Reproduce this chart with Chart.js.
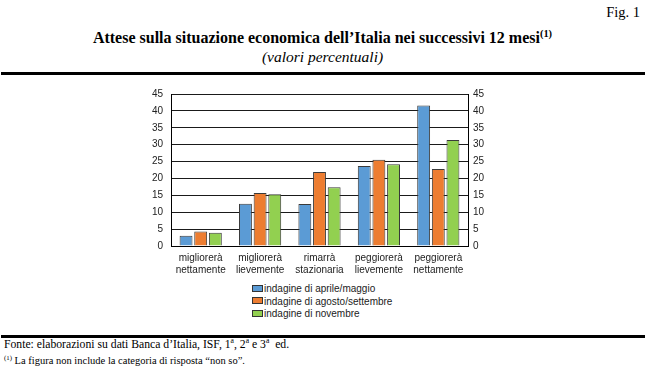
<!DOCTYPE html>
<html>
<head>
<meta charset="utf-8">
<script src="https://cdn.jsdelivr.net/npm/chart.js@4"></script>
<style>
    body { margin: 0; background: #fff; width: 645px; height: 371px; overflow: hidden; position: relative; }
    .serif { font-family: "Liberation Serif", "Times New Roman", serif; color: #000; position: absolute; white-space: nowrap; }
    #fig { right: 5px; top: 4px; font-size: 14.5px; }
    #title { left: 0; width: 645px; text-align: center; top: 29px; font-size: 16px; font-weight: bold; }
    #subtitle { left: 0; width: 645px; text-align: center; top: 48px; font-size: 15.5px; font-style: italic; }
    .rule { position: absolute; left: 1px; width: 644px; height: 3px; background: #000; }
    #chartBox { position: absolute; left: 0; top: 80px; width: 645px; height: 200px; }
    #legend { position: absolute; left: 252px; top: 283px; font-family: "Liberation Sans", Arial, sans-serif; font-size: 10px; color: #222; }
    .legItem { height: 12.5px; line-height: 12.5px; white-space: nowrap; }
    .legBox { display: inline-block; width: 9px; height: 5px; border: 1px solid #333; vertical-align: middle; margin-right: 1px; margin-top: -2px; }
    #source { left: 4px; top: 338px; font-size: 11.7px; line-height: 13px; }
    #note { left: 4px; top: 355px; font-size: 10.5px; line-height: 12px; }
    sup { font-size: 0.65em; line-height: 0; }
</style>
</head>
<body>
<div class="serif" id="fig">Fig. 1</div>
<div class="serif" id="title">Attese sulla situazione economica dell’Italia nei successivi 12 mesi<sup>(1)</sup></div>
<div class="serif" id="subtitle">(valori percentuali)</div>
<div class="rule" style="top:72px"></div>
<div id="chartBox"><canvas id="chart"></canvas></div>
<div id="legend"></div>
<div class="rule" style="top:335px"></div>
<div class="serif" id="source">Fonte: elaborazioni su dati Banca d’Italia, ISF, 1<sup>a</sup>, 2<sup>a</sup> e 3<sup>a</sup>&nbsp; ed.</div>
<div class="serif" id="note"><sup>(1)</sup> La figura non include la categoria di risposta “non so”.</div>

<script>
let categories = [
    ['migliorerà', 'nettamente'],
    ['migliorerà', 'lievemente'],
    ['rimarrà', 'stazionaria'],
    ['peggiorerà', 'lievemente'],
    ['peggiorerà', 'nettamente']
];
let seriesNames = ['indagine di aprile/maggio', 'indagine di agosto/settembre', 'indagine di novembre'];
let aprileMaggio = [3.0, 12.5, 12.4, 23.7, 41.6];
let agostoSettembre = [4.3, 15.7, 21.9, 25.5, 22.8];
let novembre = [3.9, 15.3, 17.4, 24.2, 31.4];
let yMin = 0;
let yMax = 45;
let yStep = 5;

let colors = ['#5b9bd5', '#ed7d31', '#92d050'];
let tickFont = { family: '"Liberation Sans", Arial, sans-serif', size: 10 };

function makeDataset(i, values) {
    return {
        label: seriesNames[i],
        data: values,
        backgroundColor: colors[i],
        borderColor: '#3a3a3a',
        borderWidth: 1,
        borderSkipped: 'bottom',
        categoryPercentage: 0.74,
        barPercentage: 0.88
    };
}

let ctx = document.getElementById('chart').getContext('2d');
let chart = new Chart(ctx, {
    type: 'bar',
    data: {
        labels: categories,
        datasets: [
            makeDataset(0, aprileMaggio),
            makeDataset(1, agostoSettembre),
            makeDataset(2, novembre)
        ]
    },
    options: {
        responsive: true,
        maintainAspectRatio: false,
        animation: false,
        layout: { padding: { left: 146, right: 152, top: 10, bottom: 4 } },
        plugins: {
            legend: { display: false },
            tooltip: { enabled: false }
        },
        scales: {
            x: {
                grid: { display: false, drawTicks: false },
                border: { display: true, color: '#000', width: 1 },
                ticks: { color: '#222', font: tickFont, padding: 6, maxRotation: 0, autoSkip: false },
                afterFit: function (scale) { scale.height = 30; }
            },
            y: {
                position: 'left',
                min: yMin,
                max: yMax,
                grid: { color: '#1a1a1a', lineWidth: 1, drawTicks: false },
                border: { display: true, color: '#000', width: 1 },
                ticks: { stepSize: yStep, color: '#222', font: tickFont, padding: 8 },
                afterFit: function (scale) { scale.width = 25; }
            },
            yRight: {
                position: 'right',
                min: yMin,
                max: yMax,
                grid: { display: false, drawTicks: false },
                border: { display: true, color: '#000', width: 1 },
                ticks: { stepSize: yStep, color: '#222', font: tickFont, padding: 5 },
                afterFit: function (scale) { scale.width = 25; }
            }
        }
    }
});

// legend stacked vertically under the chart, like the original
let legend = document.getElementById('legend');
chart.data.datasets.forEach(function (ds) {
    let item = document.createElement('div');
    item.className = 'legItem';
    let box = document.createElement('span');
    box.className = 'legBox';
    box.style.background = ds.backgroundColor;
    item.appendChild(box);
    item.appendChild(document.createTextNode(ds.label));
    legend.appendChild(item);
});
</script>
</body>
</html>
